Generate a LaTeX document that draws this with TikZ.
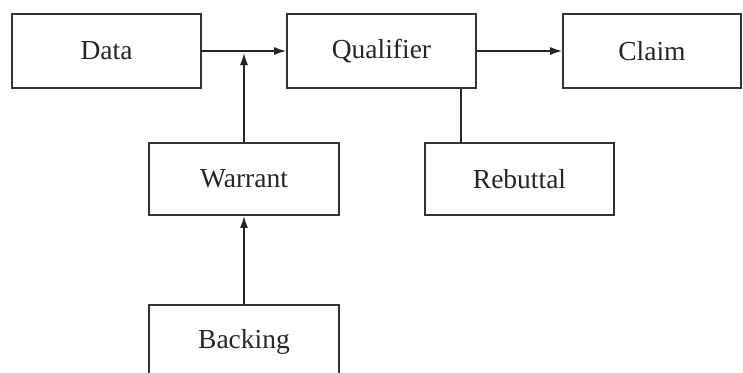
\documentclass[tikz,border=0pt]{standalone}
\usepackage{fontspec}
\setmainfont{Liberation Serif}
\usetikzlibrary{arrows.meta}
\begin{document}
\begin{tikzpicture}[x=1pt,y=-1pt,
  box/.style={draw=black!80, line width=1.6pt, minimum width=189pt, minimum height=74pt,
    inner sep=0pt, text=black!85, font=\fontsize{27.5}{32}\selectfont},
  conn/.style={draw=black!85, line width=1.6pt},
  arr/.style={conn, -{Latex[length=12pt,width=8pt]}}]
\useasboundingbox (0,0) rectangle (743,372);
\clip (0,0) rectangle (743,372);
\node[box] (data) at (106.5,51) {Data};
\node[box] (qual) at (381.5,51) {Qualifier};
\node[box, minimum width=178pt] (claim) at (652,51) {Claim};
\node[box, minimum width=190pt, minimum height=72pt] (warrant) at (244,179) {Warrant};
\node[box, minimum height=72pt] (rebuttal) at (519.5,179) {Rebuttal};
\node[box, minimum width=190pt, minimum height=73pt] (backing) at (244,341.5) {Backing};
\coordinate (j) at (warrant.north |- data.east);
\coordinate (qr) at ([xshift=79.5pt]qual.south);
\draw[arr] (data.east) -- (qual.west);
\draw[arr, shorten >=2pt] (warrant.north) -- (j);
\draw[arr] (qual.east) -- (claim.west);
\draw[conn] (qr) -- (qr |- rebuttal.north);
\draw[arr] (backing.north) -- (warrant.south);
\end{tikzpicture}
\end{document}
